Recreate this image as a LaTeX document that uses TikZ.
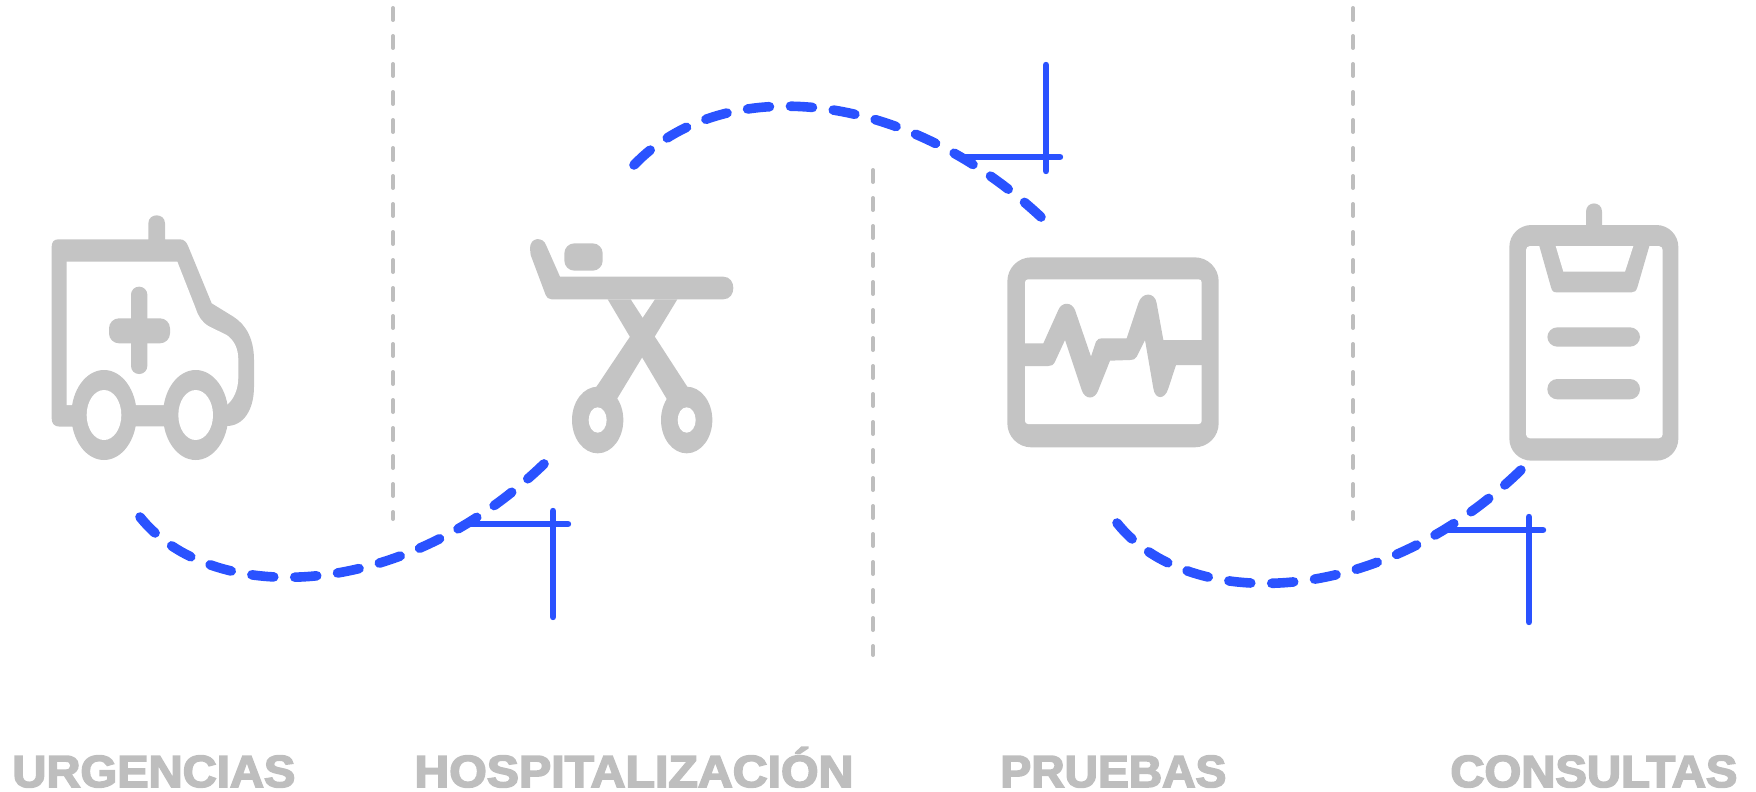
\documentclass[tikz,border=0pt]{standalone}
\usepackage{fontspec}
\usepackage{graphicx}
\newfontfamily\labfont[FakeBold=3.5]{Liberation Sans Bold}
\definecolor{icongray}{HTML}{C4C4C4}
\definecolor{textgray}{HTML}{BEBEBE}
\definecolor{sepgray}{HTML}{BEBEBE}
\definecolor{flowblue}{HTML}{2A52FF}
\tikzset{
  icon/.style={shift={#1},x=0.16667pt,y=-0.16667pt},
  gfill/.style={fill=icongray,draw=none},
  wfill/.style={fill=white,draw=none},
  sep/.style={draw=sepgray,line width=2pt,line cap=round,dash pattern=on 6pt off 8pt},
  flow/.style={draw=flowblue,line width=4.8pt,line cap=round,dash pattern=on 11pt off 10.5pt},
  tick/.style={draw=flowblue,line width=3.2pt,line cap=round},
  caption/.style={inner sep=0pt,text=textgray,font=\labfont\fontsize{22.5}{22.5}\selectfont},
}
\begin{document}
\begin{tikzpicture}[x=0.5pt,y=-0.5pt]
\useasboundingbox (0,0) rectangle (1756,792);

% separators
\coordinate (s1a) at (393,8); \coordinate (s1b) at (393,519);
\coordinate (s2a) at (873,170); \coordinate (s2b) at (873,655);
\coordinate (s3a) at (1353,8); \coordinate (s3b) at (1353,519);
\draw[sep] (s1a) -- (s1b);
\draw[sep] (s2a) -- (s2b);
\draw[sep] (s3a) -- (s3b);

% ambulance
\begin{scope}[icon={(30,200)}]
  \fill[gfill] (65,140) .. controls (65,126) and (72,118) .. (85,118) -- (355,118) -- (355,70)
    .. controls (355,38) and (405,38) .. (405,70) -- (405,118) -- (450,118)
    .. controls (462,118) and (470,126) .. (475,140) -- (545,310) -- (610,350)
    .. controls (650,375) and (672,420) .. (672,480) -- (672,560)
    .. controls (672,630) and (640,678) .. (590,678) -- (90,680)
    .. controls (72,680) and (65,670) .. (65,655) -- cycle;
  \fill[wfill] (110,185) -- (442,185) -- (497,325) .. controls (505,350) and (515,365) .. (535,378)
    -- (590,405) .. controls (612,420) and (625,445) .. (625,480) -- (625,530)
    .. controls (625,570) and (610,600) .. (590,615) -- (110,615) -- cycle;
  \fill[gfill] (222,645) ellipse [x radius=98,y radius=135];
  \fill[gfill] (497,645) ellipse [x radius=98,y radius=135];
  \fill[wfill] (222,645) ellipse [x radius=52,y radius=75];
  \fill[wfill] (497,645) ellipse [x radius=52,y radius=75];
  \fill[gfill,rounded corners=4pt] (303,260) rectangle (352,522);
  \fill[gfill,rounded corners=5pt] (237,355) rectangle (420,430);
\end{scope}

% stretcher
\begin{scope}[icon={(510,220)}]
  \fill[gfill] (60,85) .. controls (60,50) and (100,50) .. (108,75) -- (150,170) -- (640,170)
    .. controls (680,170) and (680,238) .. (640,238) -- (125,238)
    .. controls (115,238) and (110,232) .. (107,225) -- (62,105) -- cycle;
  \fill[gfill,rounded corners=5pt] (163,70) rectangle (278,152);
  \fill[gfill] (293,238) -- (362,238) -- (535,505) -- (472,540) -- cycle;
  \fill[gfill] (435,238) -- (502,238) -- (322,535) -- (258,502) -- cycle;
  \fill[gfill] (263,600) ellipse [x radius=77,y radius=100];
  \fill[gfill] (530,600) ellipse [x radius=77,y radius=100];
  \fill[wfill] (263,600) ellipse [x radius=27,y radius=38];
  \fill[wfill] (530,600) ellipse [x radius=27,y radius=38];
\end{scope}

% monitor
\begin{scope}[icon={(990,240)}]
  \fill[gfill,rounded corners=12pt] (52,52) rectangle (686,622);
  \fill[wfill,rounded corners=1.5pt] (105,118) rectangle (635,552);
  \fill[gfill] (100,310) -- (160,310) -- (205,210) .. controls (215,185) and (245,185) .. (255,210)
    -- (303,350) -- (318,305) .. controls (322,297) and (328,295) .. (335,295) -- (410,295)
    -- (445,190) .. controls (455,155) and (495,155) .. (500,190) -- (520,300) -- (640,300)
    -- (640,375) -- (558,375) -- (535,445) .. controls (525,480) and (495,480) .. (490,445)
    -- (465,300) -- (440,350) .. controls (435,358) and (430,360) .. (420,360) -- (360,362)
    -- (325,450) .. controls (315,480) and (285,480) .. (275,450) -- (225,300)
    -- (195,365) .. controls (190,375) and (185,378) .. (175,378) -- (100,378) -- cycle;
\end{scope}

% clipboard
\begin{scope}[icon={(1490,190)}]
  \fill[gfill] (288,110) -- (288,65) .. controls (288,32) and (336,32) .. (336,65) -- (336,110) -- cycle;
  \fill[gfill,rounded corners=11pt] (58,105) rectangle (565,812);
  \fill[wfill,rounded corners=2pt] (108,168) rectangle (518,745);
  \fill[gfill] (148,168) -- (478,168) -- (442,292) .. controls (438,303) and (434,307) .. (425,307)
    -- (200,307) .. controls (190,307) and (186,303) .. (183,292) -- cycle;
  \fill[wfill] (197,168) -- (430,168) -- (405,245) -- (220,245) -- cycle;
  \fill[gfill,rounded corners=5pt] (172,412) rectangle (450,470);
  \fill[gfill,rounded corners=5pt] (172,567) rectangle (450,628);
\end{scope}

% flow curves
\coordinate (c1a) at (140,517); \coordinate (c1b) at (547,461);
\coordinate (c2a) at (634,165); \coordinate (c2b) at (1042,218);
\coordinate (c3a) at (1117,523); \coordinate (c3b) at (1523,468);
\draw[flow] (c1a) .. controls (210,605) and (400,605) .. (c1b);
\draw[flow] (c2a) .. controls (720,75) and (900,85) .. (c2b);
\draw[flow] (c3a) .. controls (1187,611) and (1377,611) .. (c3b);

% tick marks
\coordinate (t1w) at (470,524); \coordinate (t1e) at (568,524);
\coordinate (t1n) at (553,511); \coordinate (t1s) at (553,617);
\coordinate (t2w) at (963,157); \coordinate (t2e) at (1060,157);
\coordinate (t2n) at (1046,65); \coordinate (t2s) at (1046,171);
\coordinate (t3w) at (1445,530); \coordinate (t3e) at (1543,530);
\coordinate (t3n) at (1529,517); \coordinate (t3s) at (1529,622);
\draw[tick] (t1w) -- (t1e); \draw[tick] (t1n) -- (t1s);
\draw[tick] (t2w) -- (t2e); \draw[tick] (t2n) -- (t2s);
\draw[tick] (t3w) -- (t3e); \draw[tick] (t3n) -- (t3s);

% captions
\node[caption,anchor=base west] (urg) at (12,787) {\resizebox{141.5pt}{\height}{URGENCIAS}};
\node[caption,anchor=base west] (hos) at (414,787) {\resizebox{219.5pt}{\height}{HOSPITALIZACIÓN}};
\node[caption,anchor=base west] (pru) at (1000,787) {\resizebox{113pt}{\height}{PRUEBAS}};
\node[caption,anchor=base west] (con) at (1450,787) {\resizebox{143.5pt}{\height}{CONSULTAS}};
\end{tikzpicture}
\end{document}
